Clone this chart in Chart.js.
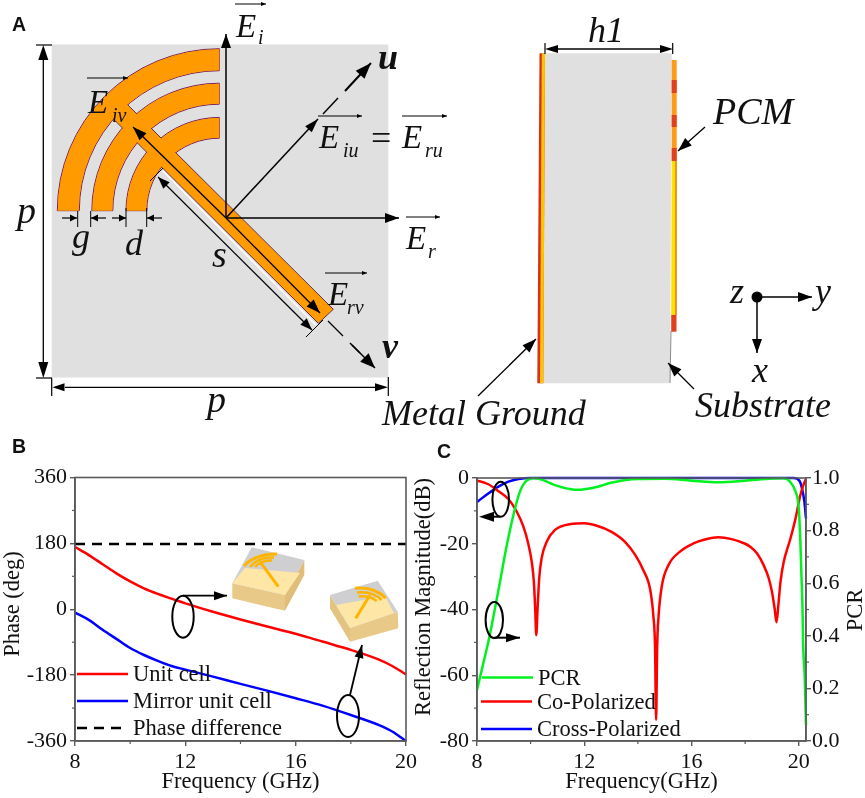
<!DOCTYPE html>
<html>
<head>
<meta charset="utf-8">
<script src="https://cdn.jsdelivr.net/npm/chart.js@4"></script>
<style>
  html, body { margin: 0; padding: 0; background: #fff; }
  #page { position: relative; width: 865px; height: 798px; overflow: hidden; }
  canvas, svg { position: absolute; }
  #chartB { left: 0; top: 430px; }
  #chartC { left: 410px; top: 430px; }
  svg { left: 0; top: 0; pointer-events: none; }
  text { font-family: "Liberation Serif", serif; fill: #111; }
</style>
</head>
<body>
<div id="page">
  <canvas id="chartB" width="420" height="368"></canvas>
  <canvas id="chartC" width="455" height="368"></canvas>
  <svg id="art" width="865" height="798" viewBox="0 0 865 798"></svg>
</div>
<script>
// panel B, phase against frequency
const phaseFreq = [8, 8.5, 9, 9.5, 10, 10.5, 11, 11.5, 12, 13, 14, 15, 16, 17, 18, 19, 19.5, 20]
const unitCell = [170, 148, 123, 98, 76, 57, 42, 29, 16, -7, -28, -48, -67, -89, -111, -137, -155, -178]
const mirrorCell = [-9, -29, -56, -81, -106, -125, -141, -155, -165, -184, -204, -223, -243, -264, -289, -316, -334, -360]
const phaseDiff = [178, 178, 178, 178, 178, 178, 178, 178, 178, 178, 178, 178, 178, 178, 178, 178, 178, 178]
const phaseTicks = [-360, -180, 0, 180, 360]
const phaseMinor = [-270, -90, 90, 270]
const phaseFreqTicks = [8, 12, 16, 20]
const phaseFreqMinor = [10, 14, 18]

// panel C, reflection and PCR
const coFreq = [8, 8.05, 8.42, 8.8, 9.17, 9.48, 9.73, 9.91, 10.04, 10.12, 10.17, 10.21, 10.26, 10.32, 10.41, 10.6, 10.91, 11.5, 12, 12.5, 13, 13.52, 13.9, 14.2, 14.46, 14.58, 14.64, 14.68, 14.72, 14.77, 14.89, 15.14, 15.57, 16.07, 16.5, 17, 17.5, 18, 18.19, 18.44, 18.69, 18.88, 19, 19.1, 19.17, 19.24, 19.32, 19.44, 19.69, 19.88, 20.06, 20.25, 20.27]
const coPol = [-0.8, -0.9, -1.9, -4, -6.4, -10.2, -14.8, -19.9, -25.4, -31.5, -39.6, -47.8, -39.6, -30.5, -24.4, -19.4, -15.8, -14, -13.8, -14.6, -16.3, -19.4, -23.4, -28, -34, -42.2, -51.3, -73.6, -51.3, -42.2, -33, -26.5, -22.4, -19.9, -18.7, -18, -18.6, -20, -20.9, -22.9, -26.5, -30.5, -34.6, -39.7, -43.9, -38.6, -31.5, -25.5, -18.4, -12.3, -5.2, -0.6, -0.4]
const crossFreq = [8, 8.05, 8.42, 8.8, 9.17, 9.55, 10, 12, 14, 16, 18, 19.81, 20.03, 20.12, 20.21, 20.27]
const crossPol = [-7.3, -7, -4.7, -2.6, -1.1, -0.3, 0, 0, 0, 0, 0, 0, -0.9, -3.1, -7.2, -12.3]
const pcrFreq = [8, 8.2, 8.45, 8.67, 8.86, 9.04, 9.23, 9.42, 9.6, 9.79, 10.1, 10.41, 10.91, 11.5, 11.8, 12, 12.5, 13, 14, 15, 16, 17, 18, 19, 19.44, 19.69, 19.88, 20, 20.06, 20.1, 20.14, 20.16, 20.22, 20.27]
const pcr = [0.194, 0.28, 0.39, 0.504, 0.606, 0.707, 0.802, 0.885, 0.948, 0.984, 0.999, 0.994, 0.973, 0.957, 0.955, 0.957, 0.967, 0.982, 0.996, 0.997, 0.99, 0.984, 0.99, 0.998, 0.999, 0.984, 0.948, 0.885, 0.758, 0.631, 0.504, 0.377, 0.25, 0.06]
const dbTicks = [-80, -60, -40, -20, 0]
const dbMinor = [-70, -50, -30, -10]
const pcrTicks = [0, 0.2, 0.4, 0.6, 0.8, 1]
const pcrMinor = [0.1, 0.3, 0.5, 0.7, 0.9]
const freqTicks = [8, 12, 16, 20]
const freqMinor = [10, 14, 18]

const SERIF = '"Liberation Serif", serif'
const AXIS = '#5a5a5a'

function points(xs, ys) {
  return xs.map((x, i) => ({ x: x, y: ys[i] }))
}

function line(label, xs, ys, color, yAxisID, dash) {
  return {
    label: label, data: points(xs, ys), borderColor: color, backgroundColor: color,
    borderWidth: 2.5, pointRadius: 0, cubicInterpolationMode: 'monotone',
    borderDash: dash || [], yAxisID: yAxisID, clip: false
  }
}

function scale(position, min, max, ticks, size, format, pad) {
  return {
    type: 'linear', position: position, min: min, max: max,
    afterBuildTicks: s => { s.ticks = ticks.map(v => ({ value: v })) },
    afterFit: s => { if (position === 'bottom') s.height = size; else s.width = size },
    grid: { display: true, drawOnChartArea: false, color: AXIS, tickLength: 5, lineWidth: 1.4 },
    border: { display: true, color: AXIS, width: 1.6 },
    ticks: {
      color: '#111', font: { family: SERIF, size: 22 }, padding: pad === undefined ? 3 : pad, maxRotation: 0,
      autoSkip: false, callback: format || (v => v)
    }
  }
}

// closes the frame and adds the short minor ticks
const framePlugin = {
  id: 'frame',
  afterDatasetsDraw(chart, args, opts) {
    const a = chart.chartArea, c = chart.ctx
    c.save()
    c.strokeStyle = AXIS
    c.lineWidth = 1.6
    c.strokeRect(a.left, a.top, a.right - a.left, a.bottom - a.top)
    c.lineWidth = 1.2
    for (const m of opts.minor) {
      const s = chart.scales[m.id], dir = m.id === 'y1' ? 1 : -1
      for (const v of m.values) {
        const p = s.getPixelForValue(v)
        c.beginPath()
        if (m.id === 'x') { c.moveTo(p, a.bottom); c.lineTo(p, a.bottom + 3) }
        else {
          const edge = m.id === 'y1' ? a.right : a.left
          c.moveTo(edge, p); c.lineTo(edge + dir * 3, p)
        }
        c.stroke()
      }
    }
    c.restore()
  }
}

// legend inside the plot, labels come from the datasets
const insetLegend = {
  id: 'insetLegend',
  afterDraw(chart, args, opts) {
    const c = chart.ctx
    c.save()
    c.font = '22.5px ' + SERIF
    c.textBaseline = 'alphabetic'
    chart.data.datasets.forEach((d, i) => {
      const r = opts.rows[i]
      c.strokeStyle = d.borderColor
      c.lineWidth = 2.5
      c.setLineDash(d.borderDash)
      c.beginPath(); c.moveTo(r[0], r[2]); c.lineTo(r[1], r[2]); c.stroke()
      c.fillStyle = '#111'
      c.fillText(d.label, r[3], r[2] + 7)
    })
    c.restore()
  }
}

Chart.defaults.animation = false
Chart.defaults.responsive = false

new Chart(document.getElementById('chartB'), {
  type: 'line',
  data: {
    datasets: [
      line('Unit cell', phaseFreq, unitCell, '#ff0000', 'y'),
      line('Mirror unit cell', phaseFreq, mirrorCell, '#0000ff', 'y'),
      line('Phase difference', phaseFreq, phaseDiff, '#000000', 'y', [10, 7])
    ]
  },
  options: {
    layout: { autoPadding: false, padding: { top: 47.5, right: 14, bottom: 0, left: 0 } },
    scales: {
      x: Object.assign(scale('bottom', 8, 20, phaseFreqTicks, 57), {
        title: { display: true, text: 'Frequency (GHz)', color: '#111', font: { family: SERIF, size: 22.5 }, padding: { top: 0, bottom: 2 } }
      }),
      y: scale('left', -360, 360, phaseTicks, 75)
    },
    plugins: {
      legend: { display: false }, tooltip: { enabled: false },
      frame: { minor: [{ id: 'x', values: phaseFreqMinor }, { id: 'y', values: phaseMinor }] },
      insetLegend: { rows: [[77, 128, 244, 133], [77, 128, 271, 133], [77, 124, 298, 133]] }
    }
  },
  plugins: [framePlugin, insetLegend]
})

new Chart(document.getElementById('chartC'), {
  type: 'line',
  data: {
    datasets: [
      line('PCR', pcrFreq, pcr, '#00f020', 'y1'),
      line('Co-Polarized', coFreq, coPol, '#ff0000', 'y'),
      line('Cross-Polarized', crossFreq, crossPol, '#0000ff', 'y')
    ]
  },
  options: {
    layout: { autoPadding: false, padding: { top: 48, right: 0, bottom: 0, left: 0 } },
    scales: {
      x: Object.assign(scale('bottom', 8, 20.27, freqTicks, 57), {
        title: { display: true, text: 'Frequency(GHz)', color: '#111', font: { family: SERIF, size: 22.5 }, padding: { top: 0, bottom: 2 } }
      }),
      y: scale('left', -80, 0, dbTicks, 67),
      y1: scale('right', 0, 1, pcrTicks, 59, v => v.toFixed(1), 1)
    },
    plugins: {
      legend: { display: false }, tooltip: { enabled: false },
      frame: { minor: [{ id: 'x', values: freqMinor }, { id: 'y', values: dbMinor }, { id: 'y1', values: pcrMinor }] },
      insetLegend: { rows: [[72, 123, 247.5, 128], [71, 122, 271.5, 127], [71, 122, 299, 127]] }
    }
  },
  plugins: [framePlugin, insetLegend]
})

// everything below is the drawing of panel A and the notes on top of the plots
let out = ''

function txt(s, x, y, size, extra) {
  out += '<text x="' + x + '" y="' + y + '" font-size="' + size + '" ' + (extra || '') + '>' + s + '</text>'
}
function ital(s, x, y, size) { txt(s, x, y, size, 'font-style="italic"') }
function seg(x1, y1, x2, y2, w, extra) {
  out += '<line x1="' + x1 + '" y1="' + y1 + '" x2="' + x2 + '" y2="' + y2 + '" stroke="#000" stroke-width="' + w + '" ' + (extra || '') + '/>'
}
function head(x1, y1, x2, y2, len, wid) {
  const a = Math.atan2(y2 - y1, x2 - x1), c = Math.cos(a), s = Math.sin(a)
  const bx = x2 - len * c, by = y2 - len * s
  out += '<polygon fill="#000" points="' + x2 + ',' + y2 + ' ' + (bx - wid * s) + ',' + (by + wid * c) + ' ' + (bx + wid * s) + ',' + (by - wid * c) + '"/>'
}
function arrow(x1, y1, x2, y2, w, len, wid) {
  seg(x1, y1, x2, y2, w)
  head(x1, y1, x2, y2, len, wid)
}
function poly(pts, fill, extra) {
  out += '<polygon points="' + pts + '" fill="' + fill + '" ' + (extra || '') + '/>'
}
function ring(cx, cy, ro, ri) {
  return 'M' + (cx - ro) + ' ' + cy + ' A' + ro + ' ' + ro + ' 0 0 1 ' + cx + ' ' + (cy - ro) +
    ' L' + cx + ' ' + (cy - ri) + ' A' + ri + ' ' + ri + ' 0 0 0 ' + (cx - ri) + ' ' + cy + ' Z'
}
function vec(x1, x2, y) { seg(x1, y, x2, y, 1); head(x1, y, x2, y, 5, 2) }
function ellipse(cx, cy, rx, ry) {
  out += '<ellipse cx="' + cx + '" cy="' + cy + '" rx="' + rx + '" ry="' + ry + '" fill="none" stroke="#000" stroke-width="2"/>'
}
function curve(d, w) {
  out += '<path d="' + d + '" fill="none" stroke="#ffb400" stroke-width="' + w + '"/>'
}

// panel A, unit cell
out += '<rect x="51.7" y="44.5" width="336.6" height="333" fill="#e0e0e0"/>'
const rings = ring(219.3, 210.7, 162, 140) + ring(219.3, 210.7, 127.5, 106.5) + ring(219.3, 210.7, 93.3, 72.5)
const stem = '333.3,309.3 318.3,323.3 107.2,112.8 121.4,98.6'
out += '<path d="' + rings + '" fill="#ff9a00" stroke="#7a2060" stroke-width="1"/>'
poly(stem, '#ff9a00', 'stroke="#5a2a50" stroke-width="1"')
out += '<path d="' + ring(219.3, 210.7, 161.5, 140.5) + ring(219.3, 210.7, 127, 107) + ring(219.3, 210.7, 92.8, 73) + '" fill="#ff9a00"/>'
poly('332.5,309.3 318.3,322.5 108,112.8 121.4,99.5', '#ff9a00')
out += '<line x1="163" y1="171" x2="316" y2="325" stroke="#fff" stroke-width="1.5"/>'

// field arrows
arrow(226, 218, 226, 34, 1.5, 14, 5)
arrow(226, 218, 399, 218, 1.5, 14, 5)
arrow(226, 218, 318, 119, 1.5, 14, 4.5)
seg(323, 114, 338, 98, 1.5)
arrow(345, 91, 371, 63, 2, 16, 6)
seg(328, 321, 343, 336, 1.2)
seg(350, 343, 360, 353, 1.5)
arrow(352, 345, 375, 368, 1.5, 15, 6)
arrow(226, 218, 133, 127, 1.3, 14, 5)
arrow(226, 218, 320, 313, 1.3, 14, 5)

// dimension lines
seg(43.3, 60, 43.3, 362, 1.3)
head(43.3, 60, 43.3, 45, 15, 5)
head(43.3, 362, 43.3, 378, 16, 5)
seg(36, 45, 52, 45, 1.2)
seg(36, 378, 52, 378, 1.2)
seg(65, 387.3, 375, 387.3, 1.3)
head(65, 387.3, 52.5, 387.3, 12, 4)
head(375, 387.3, 388, 387.3, 13, 4)
seg(51.7, 378, 51.7, 396, 1.2)
seg(388.3, 377, 388.3, 396, 1.2)
arrow(62, 218, 77, 218, 1.2, 7, 3.5)
arrow(106, 218, 91, 218, 1.2, 7, 3.5)
arrow(112, 218, 126, 218, 1.2, 7, 3.5)
arrow(162, 218, 147, 218, 1.2, 7, 3.5)
seg(77.7, 211, 77.7, 227, 1)
seg(90.7, 211, 90.7, 227, 1)
seg(126, 208, 126, 227, 1)
seg(146.7, 208, 146.7, 227, 1)
seg(158, 177, 312, 330, 1.2)
head(170, 189, 158, 177, 12, 4.5)
head(300, 318, 312, 330, 12, 4.5)
seg(150, 181, 163, 168, 1)
seg(306, 337, 323, 320, 1)

// panel A labels
const letterStyle = 'style="font-family:\'Liberation Sans\',sans-serif;font-weight:bold"'
txt('A', 12, 30.5, 19.5, letterStyle)
ital('E', 236, 36.7, 33); ital('i', 258, 44, 20); vec(235, 266, 4)
ital('E', 88, 113, 33); ital('iv', 112, 122, 20); vec(87, 128, 78)
ital('E', 319, 148, 33); ital('iu', 343, 157, 20); vec(318, 362, 116)
txt('=', 371, 150, 36)
ital('E', 402, 148, 33); ital('ru', 425, 157, 20); vec(402, 447, 116)
ital('E', 406, 249, 33); ital('r', 428, 258, 20); vec(406, 440, 217)
ital('E', 328, 305, 33); ital('rv', 347, 314, 20); vec(325, 367, 273)
txt('u', 378, 69, 36, 'font-style="italic" font-weight="bold"')
txt('v', 382, 358, 36, 'font-style="italic" font-weight="bold"')
ital('p', 17, 223, 38)
ital('p', 207, 412, 38)
ital('g', 72, 248, 36)
ital('d', 125, 255, 36)
ital('s', 212, 267, 38)

// side view
poly('545,53.3 671.7,53.3 670,383.3 543.3,383.3', '#e0e0e0')
poly('539.5,53.3 545,53.3 543.3,383.3 537.3,383.3', '#d8301c')
poly('541.8,53.3 545,53.3 543.3,383.3 540,383.3', '#ffc400')
poly('671.7,60 676.7,60 676.7,161 671.7,161', '#ff9a1a')
poly('671.7,161 676.7,161 676.5,315 671.2,315', '#ffe000')
seg(676, 161, 676, 315, 1.2, 'style="stroke:#e06010"')
poly('671.7,80 676.7,80 676.7,93 671.7,93', '#e0401c')
poly('671.7,115 676.7,115 676.7,127 671.7,127', '#e0401c')
poly('671.7,148 676.7,148 676.7,161 671.7,161', '#e0401c')
poly('671.2,315 676.5,315 676.5,331.7 671.2,331.7', '#e0401c')
seg(671, 331, 670, 383, 1, 'style="stroke:#888"')
seg(558, 49, 660, 49, 1.6)
head(558, 49, 545, 49, 13, 4)
head(660, 49, 673, 49, 13, 4)
seg(545, 43, 545, 54, 1.2)
seg(672.7, 43, 672.7, 54, 1.2)
ital('h1', 588, 41.7, 36)
ital('PCM', 713, 124, 38)
arrow(705, 127, 678, 151, 1.3, 14, 5)
ital('Metal Ground', 382, 425, 36)
arrow(478, 396, 536, 339, 1.3, 14, 5)
ital('Substrate', 695, 417, 36)
arrow(694, 389, 668, 363, 1.3, 14, 5)
out += '<circle cx="757" cy="297" r="5.5" fill="#000"/>'
arrow(757, 297, 812, 297, 1.5, 14, 5)
arrow(757, 297, 757, 353, 1.5, 14, 5)
ital('z', 730, 303, 36)
ital('y', 815, 303, 36)
ital('x', 752, 382, 36)

// panel letters
txt('B', 12, 453, 19.5, letterStyle)
txt('C', 437, 458, 19.5, letterStyle)

// axis titles sit off centre in the original, and PCR reads upward, so they are placed by hand
txt('Phase (deg)', 0, 0, 22.5, 'text-anchor="middle" transform="translate(18.5,604) rotate(-90)"')
txt('Reflection Magnitude(dB)', 0, 0, 22.5, 'text-anchor="middle" transform="translate(429.5,597) rotate(-90)"')
txt('PCR', 0, 0, 22.5, 'text-anchor="middle" transform="translate(862,610) rotate(-90)"')

// panel B notes
ellipse(183, 616.7, 10.7, 21)
arrow(183, 595.7, 227, 595.7, 1.8, 13, 4.5)
ellipse(348, 716, 11, 21)
arrow(350, 695, 362, 645, 1.8, 13, 4.5)

// small cells next to the notes
poly('232.3,583.3 285,595 285,610.7 232.3,598.3', '#e8c987')
poly('285,595 304.3,560 304.3,575 285,610.7', '#e0bd78')
poly('251.7,547.3 304.3,560 285,595 232.3,583.3', '#cfcfd2')
poly('245,568 300,573 285,595 232.3,583.3', '#fde6a6')
curve('M260 561.7 L278.3 586.7', 3)
curve('M244 566 Q255 554 277 554', 3)
curve('M250 567 Q258 557 274 557.5', 2.5)
curve('M255 567 Q261 560 272 560.5', 2.5)
poly('330,595 350,628 350,641.7 330,608.3', '#e2c380')
poly('350,628 397.7,611.7 398.3,628.3 350,641.7', '#e8c987')
poly('377.7,580.7 397.7,611.7 350,628 330,595', '#cfcfd2')
poly('336,605 385,596 394,613 350,628', '#fde6a6')
curve('M370 595 L355.7 618.3', 3)
curve('M355 588.3 Q375 586.7 385.7 598.3', 3)
curve('M357 592.5 Q372 590.5 381.7 600', 2.5)
curve('M358.5 596.5 Q369 595 376.7 601', 2.5)

// panel C notes
ellipse(500.7, 499.3, 8.3, 17.5)
seg(500, 516.7, 490, 516.7, 2)
head(500, 516.7, 479, 516.7, 15, 5)
ellipse(494.3, 620, 8.7, 18)
arrow(494.3, 637.7, 520, 637.7, 2, 14, 4.5)

document.getElementById('art').innerHTML = out
</script>
</body>
</html>
